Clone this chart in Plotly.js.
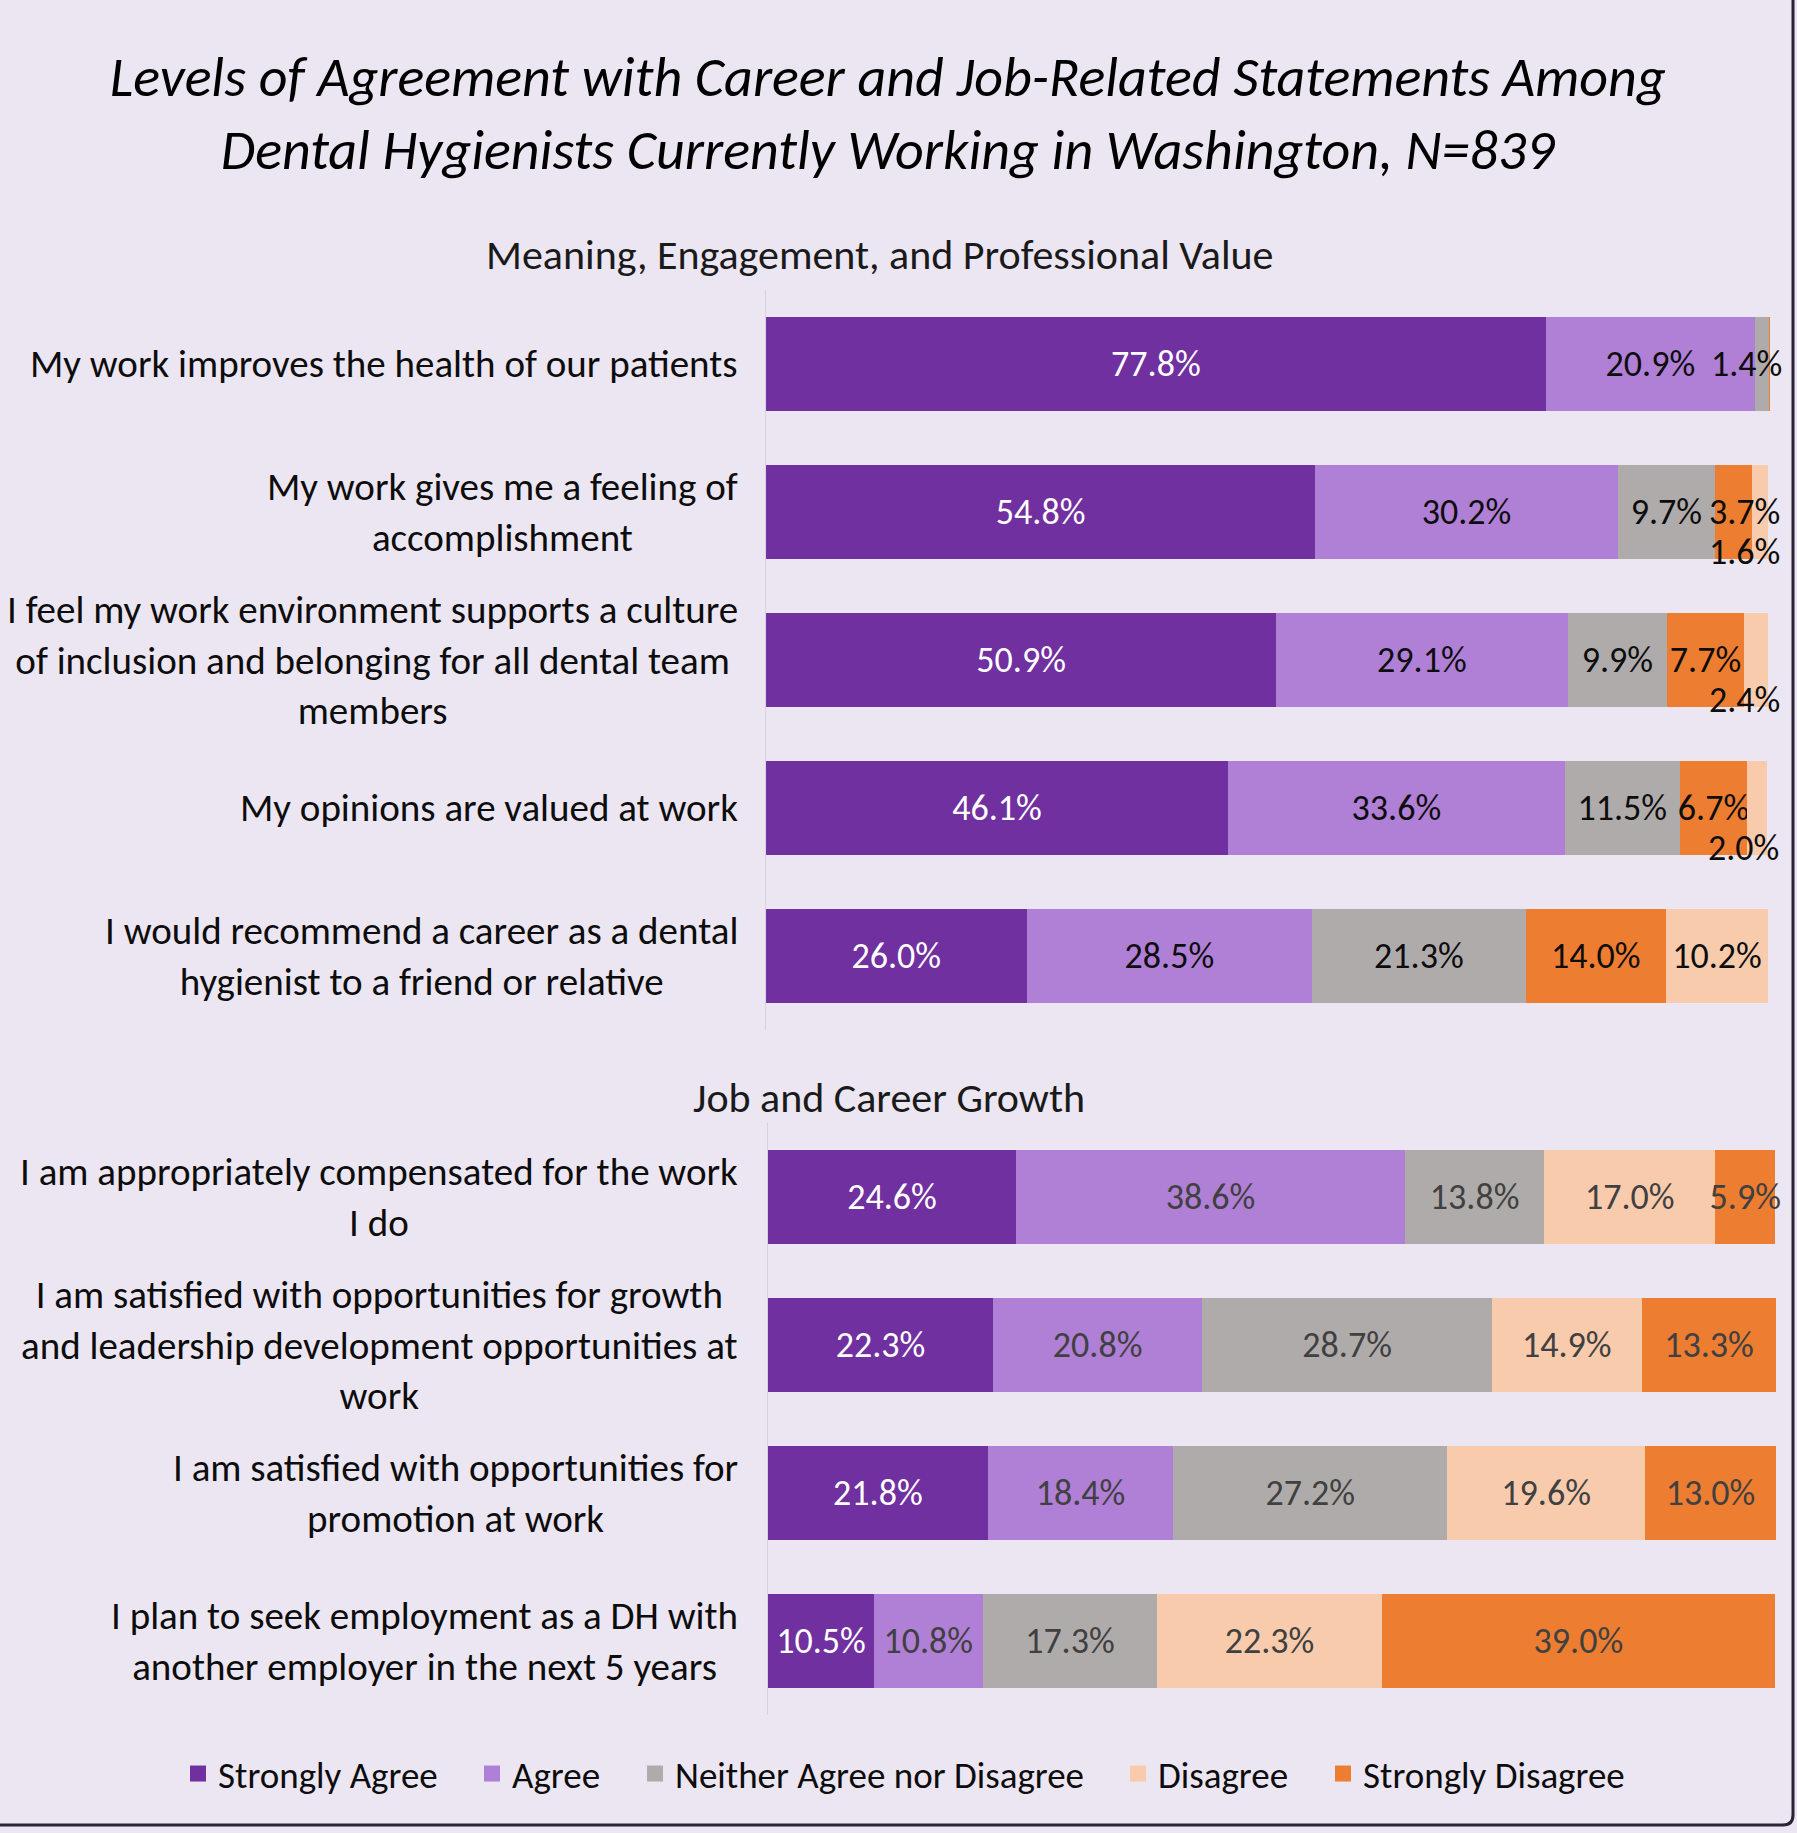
<!DOCTYPE html>
<html>
<head>
<meta charset="utf-8">
<script src="https://cdn.plot.ly/plotly-3.0.1.min.js"></script>
<style>html,body{margin:0;padding:0;background:#ECE6F3;}</style>
</head>
<body>
<div id="chart" style="width:1797px;height:1833px;"></div>
<script>
// ---------- data ----------
const seriesNames = ['Strongly Agree', 'Agree', 'Neither Agree nor Disagree', 'Disagree', 'Strongly Disagree'];

const topCategories = [
  'My work improves the health of our patients',
  'My work gives me a feeling of<br>accomplishment',
  'I feel my work environment supports a culture<br>of inclusion and belonging for all dental team<br>members',
  'My opinions are valued at work',
  'I would recommend a career as a dental<br>hygienist to a friend or relative'
];
const topStronglyAgree    = [77.8, 54.8, 50.9, 46.1, 26.0];
const topAgree            = [20.9, 30.2, 29.1, 33.6, 28.5];
const topNeither          = [1.4, 9.7, 9.9, 11.5, 21.3];
const topDisagree         = [0.1, 3.7, 7.7, 6.7, 14.0];
const topStronglyDisagree = [0.0, 1.6, 2.4, 2.0, 10.2];

const bottomCategories = [
  'I am appropriately compensated for the work<br>I do',
  'I am satisfied with opportunities for growth<br>and leadership development opportunities at<br>work',
  'I am satisfied with opportunities for<br>promotion at work',
  'I plan to seek employment as a DH with<br>another employer in the next 5 years'
];
const bottomStronglyAgree    = [24.6, 22.3, 21.8, 10.5];
const bottomAgree            = [38.6, 20.8, 18.4, 10.8];
const bottomNeither          = [13.8, 28.7, 27.2, 17.3];
const bottomDisagree         = [17.0, 14.9, 19.6, 22.3];
const bottomStronglyDisagree = [5.9, 13.3, 13.0, 39.0];

const chartTitle = 'Levels of Agreement with Career and Job-Related Statements Among<br>Dental Hygienists Currently Working in Washington, N=839';
const topSubtitle = 'Meaning, Engagement, and Professional Value';
const bottomSubtitle = 'Job and Career Growth';

// ---------- style ----------
const FONT = 'Carlito, Calibri, Lato, sans-serif';
const C_SA = '#7030A0', C_A = '#B07FD6', C_N = '#AFABAB', C_OR = '#ED7D31', C_PE = '#F8CBAD';
const LABEL_SIZE = 39, DATA_SIZE = 36, LEGEND_SIZE = 37, SUB_SIZE = 42, TITLE_SIZE = 56;
const W = 1797, H = 1833;

const fmt = v => v.toFixed(1) + '%';

const topSeries = [topStronglyAgree, topAgree, topNeither, topDisagree, topStronglyDisagree];
const topColors = [C_SA, C_A, C_N, C_OR, C_PE];
const bottomSeries = [bottomStronglyAgree, bottomAgree, bottomNeither, bottomDisagree, bottomStronglyDisagree];
const bottomColors = [C_SA, C_A, C_N, C_PE, C_OR];

const traces = [];
const annotations = [];

// top chart: small segments get labels aligned to the row end
topSeries.forEach((vals, s) => {
  const text = vals.map(v => (v >= 5 ? fmt(v) : ''));
  traces.push({
    type: 'bar', orientation: 'h', name: seriesNames[s],
    x: vals, y: topCategories, xaxis: 'x', yaxis: 'y',
    marker: {color: topColors[s], line: {width: 0}},
    text: text, textposition: 'inside', insidetextanchor: 'middle',
    textangle: 0, constraintext: 'none', cliponaxis: false,
    textfont: {family: FONT, size: DATA_SIZE, color: s === 0 ? '#FFFFFF' : '#0D0D0D'},
    hoverinfo: 'skip', showlegend: false
  });
});
topCategories.forEach((cat, i) => {
  const total = topSeries.reduce((a, vals) => a + vals[i], 0);
  topSeries.forEach((vals, s) => {
    const v = vals[i];
    if (v < 5 && v >= 0.5) {
      const last = s === topSeries.length - 1;
      annotations.push({
        xref: 'x', yref: 'y', x: total, y: cat, xanchor: 'right', yanchor: 'middle',
        xshift: 14, yshift: last ? -40 : 0, showarrow: false, text: fmt(v),
        font: {family: FONT, size: DATA_SIZE, color: '#0D0D0D'}
      });
    }
  });
});

bottomSeries.forEach((vals, s) => {
  traces.push({
    type: 'bar', orientation: 'h', name: seriesNames[s],
    x: vals, y: bottomCategories, xaxis: 'x2', yaxis: 'y2',
    marker: {color: bottomColors[s], line: {width: 0}},
    text: vals.map(fmt), textposition: 'inside', insidetextanchor: 'middle',
    textangle: 0, constraintext: 'none', cliponaxis: false,
    textfont: {family: FONT, size: DATA_SIZE, color: s === 0 ? '#FFFFFF' : '#404040'},
    hoverinfo: 'skip', showlegend: false
  });
});

// legend entries (matching the lower chart's colours), one legend box per entry
const legendIds = ['legend', 'legend2', 'legend3', 'legend4', 'legend5'];
const legendLeftPx = [178, 472, 635, 1118, 1323];
seriesNames.forEach((n, s) => {
  traces.push({
    type: 'scatter', mode: 'markers', name: n, x: [null], y: [null],
    xaxis: 'x2', yaxis: 'y2', legend: legendIds[s],
    marker: {symbol: 'square', size: 16, color: bottomColors[s]},
    hoverinfo: 'skip', showlegend: true
  });
});

// category labels
topCategories.forEach(cat => annotations.push({
  xref: 'paper', yref: 'y', x: 0.4118, y: cat, xanchor: 'right', yanchor: 'middle',
  align: 'center', showarrow: false, text: cat,
  font: {family: FONT, size: LABEL_SIZE, color: '#0D0D0D'}
}));
bottomCategories.forEach(cat => annotations.push({
  xref: 'paper', yref: 'y2', x: 0.4118, y: cat, xanchor: 'right', yanchor: 'middle',
  align: 'center', showarrow: false, text: cat,
  font: {family: FONT, size: LABEL_SIZE, color: '#0D0D0D'}
}));

// sub-chart titles
annotations.push({
  xref: 'paper', yref: 'paper', x: 0.4897, y: 0.8609, xanchor: 'center', yanchor: 'middle',
  showarrow: false, text: topSubtitle, font: {family: FONT, size: SUB_SIZE, color: '#1A1A1A'}
});
annotations.push({
  xref: 'paper', yref: 'paper', x: 0.4947, y: 0.4015, xanchor: 'center', yanchor: 'middle',
  showarrow: false, text: bottomSubtitle, font: {family: FONT, size: SUB_SIZE, color: '#1A1A1A'}
});

const axisX = {showgrid: false, zeroline: false, showticklabels: false, ticks: '', showline: false, fixedrange: true};
const axisY = {type: 'category', autorange: 'reversed', showgrid: false, zeroline: false,
  showticklabels: false, ticks: '', showline: true, linecolor: '#D7D1DD', linewidth: 1.5, fixedrange: true};

const layout = {
  width: W, height: H,
  margin: {l: 0, r: 0, t: 0, b: 0, pad: 0},
  paper_bgcolor: '#ECE6F3', plot_bgcolor: 'rgba(0,0,0,0)',
  font: {family: FONT, color: '#0D0D0D'},
  title: {
    text: chartTitle, x: 0.494, xanchor: 'center', y: 0.9475, yanchor: 'middle', yref: 'container',
    font: {family: FONT, size: TITLE_SIZE, style: 'italic', color: '#000000'}
  },
  barmode: 'stack', bargap: 0.37,
  // range extended to 101 so row-end labels stay visible; domains keep 100% at the reference bar end
  xaxis: Object.assign({}, axisX, {range: [0, 101], domain: [0.4263, 0.9895], anchor: 'y'}),
  yaxis: Object.assign({}, axisY, {domain: [0.4381, 0.8418], anchor: 'x'}),
  xaxis2: Object.assign({}, axisX, {range: [0, 101], domain: [0.4274, 0.9939], anchor: 'y2'}),
  yaxis2: Object.assign({}, axisY, {domain: [0.0644, 0.3873], anchor: 'x2'}),
  showlegend: true,
  annotations: annotations,
  shapes: [{
    type: 'path', xref: 'paper', yref: 'paper', layer: 'above',
    path: 'M -0.01 0.004364 L 0.992205 0.004364 Q 0.99777 0.004364 0.99777 0.00982 L 0.99777 1.01',
    line: {color: '#2B2438', width: 3}
  }]
};
legendIds.forEach((id, s) => {
  layout[id] = {
    orientation: 'h', x: legendLeftPx[s] / W, xanchor: 'left', y: 0.0322, yanchor: 'middle',
    bgcolor: 'rgba(0,0,0,0)', borderwidth: 0,
    font: {family: FONT, size: LEGEND_SIZE, color: '#0D0D0D'}
  };
});

Plotly.newPlot('chart', traces, layout, {displayModeBar: false, staticPlot: true});
</script>
</body>
</html>
